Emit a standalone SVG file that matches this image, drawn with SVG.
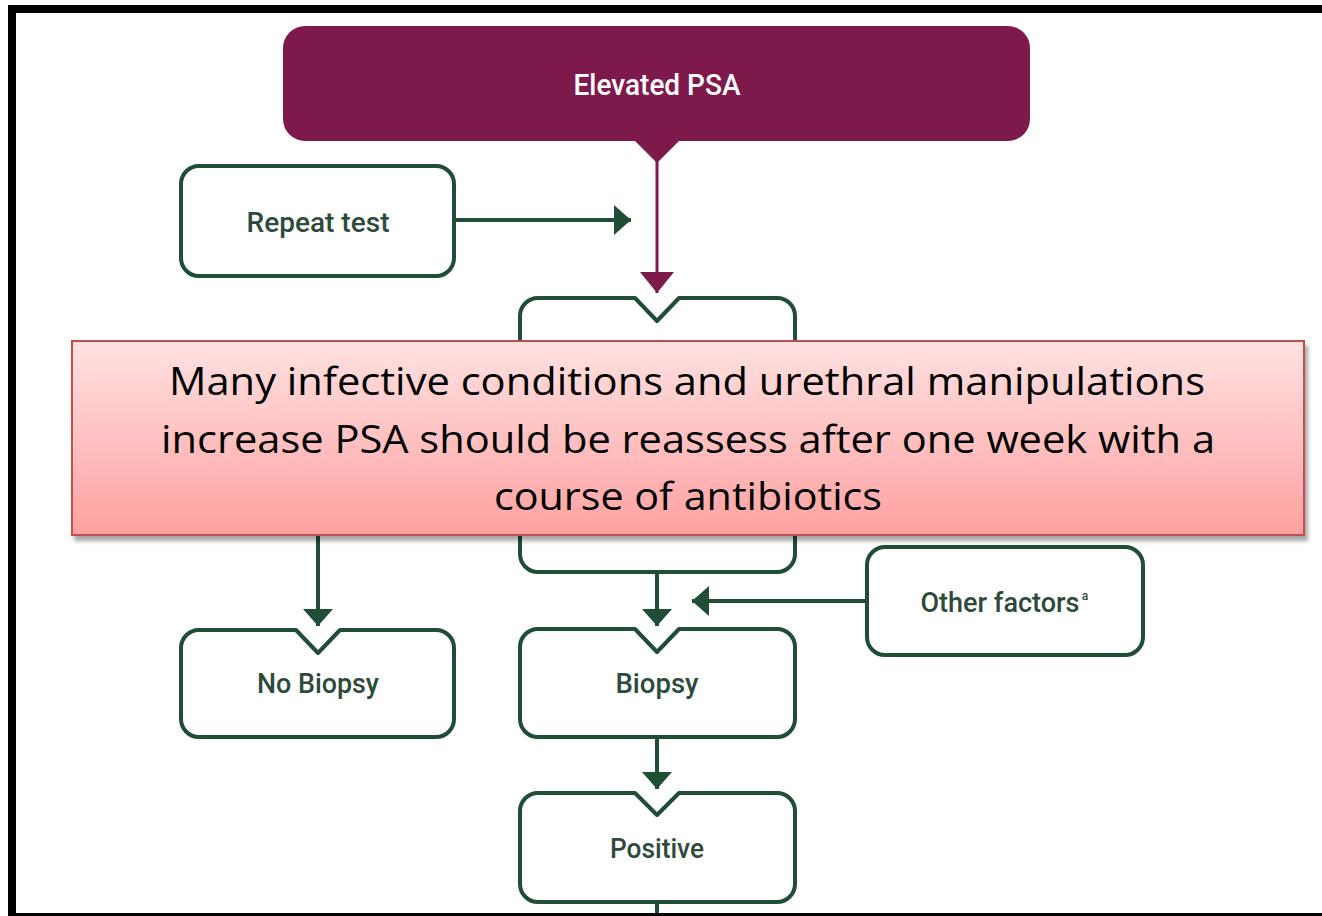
<svg xmlns="http://www.w3.org/2000/svg" width="1322" height="916" viewBox="0 0 1322 916">
<defs>
<style>
.box{fill:#ffffff;stroke:#1f4d36;stroke-width:4;stroke-linejoin:round}
.lbl{font-family:Roboto,"Liberation Sans",sans-serif;font-weight:500;fill:#2d4a3b;text-anchor:middle}
.gline{stroke:#1f4d36;stroke-width:4;fill:none}
.gline-m{stroke:#7e1a4b;stroke-width:3;fill:none}
.ov{font-family:"Open Sans","Noto Sans",sans-serif;font-size:38px;fill:#000000;text-anchor:middle}
</style>
<marker id="ga" markerUnits="userSpaceOnUse" markerWidth="18" markerHeight="30" viewBox="0 0 18 30" refX="17" refY="15" orient="auto">
<path d="M0,0 L17,15 L0,30 Z" fill="#1f4d36"/>
</marker>
<marker id="ma" markerUnits="userSpaceOnUse" markerWidth="22" markerHeight="34" viewBox="0 0 22 34" refX="21" refY="17" orient="auto">
<path d="M0,0 L21,17 L0,34 Z" fill="#7e1a4b"/>
</marker>
<linearGradient id="og" x1="0" y1="0" x2="0" y2="1">
<stop offset="0" stop-color="#ffe1e1"/>
<stop offset="1" stop-color="#ffa1a1"/>
</linearGradient>
<filter id="sh" x="-5%" y="-10%" width="110%" height="130%">
<feGaussianBlur in="SourceAlpha" stdDeviation="2"/>
<feOffset dx="3" dy="5" result="o"/>
<feComponentTransfer><feFuncA type="linear" slope="0.35"/></feComponentTransfer>
<feMerge><feMergeNode/><feMergeNode in="SourceGraphic"/></feMerge>
</filter>
</defs>
<rect x="0" y="0" width="1322" height="916" fill="#ffffff"/>

<g id="connectors">
<line class="gline-m" x1="657" y1="158" x2="657" y2="293" marker-end="url(#ma)"/>
<line class="gline" x1="455" y1="220" x2="631" y2="220" marker-end="url(#ga)"/>
<line class="gline" x1="318" y1="520" x2="318" y2="626" marker-end="url(#ga)"/>
<line class="gline" x1="657" y1="572" x2="657" y2="626" marker-end="url(#ga)"/>
<line class="gline" x1="867" y1="601" x2="692" y2="601" marker-end="url(#ga)"/>
<line class="gline" x1="657" y1="737" x2="657" y2="789" marker-end="url(#ga)"/>
<line class="gline" x1="657" y1="902" x2="657" y2="916"/>
</g>

<g id="node-elevated">
<rect x="283" y="26" width="747" height="115" rx="22" fill="#7e1a4b"/>
<polygon points="633,139 681,139 657,163" fill="#7e1a4b"/>
<text x="657" y="95" font-family="Roboto,'Liberation Sans',sans-serif" font-weight="500" font-size="30" fill="#ffffff" text-anchor="middle" textLength="167" lengthAdjust="spacingAndGlyphs">Elevated PSA</text>
</g>

<g id="node-repeat">
<rect class="box" x="181" y="166" width="273" height="110" rx="18"/>
<text class="lbl" x="318" y="232" font-size="28" textLength="143" lengthAdjust="spacingAndGlyphs">Repeat test</text>
</g>

<g id="node-middle">
<path class="box" d="M538 298 H635 L657 321 L679 298 H777 A18 18 0 0 1 795 316 V554 A18 18 0 0 1 777 572 H538 A18 18 0 0 1 520 554 V316 A18 18 0 0 1 538 298 Z"/>
</g>

<g id="node-nobiopsy">
<path class="box" d="M199 630 H296 L318 653 L340 630 H436 A18 18 0 0 1 454 648 V719 A18 18 0 0 1 436 737 H199 A18 18 0 0 1 181 719 V648 A18 18 0 0 1 199 630 Z"/>
<text class="lbl" x="318" y="693" font-size="27" textLength="122" lengthAdjust="spacingAndGlyphs">No Biopsy</text>
</g>

<g id="node-biopsy">
<path class="box" d="M538 629 H635 L657 652 L679 629 H777 A18 18 0 0 1 795 647 V719 A18 18 0 0 1 777 737 H538 A18 18 0 0 1 520 719 V647 A18 18 0 0 1 538 629 Z"/>
<text class="lbl" x="657" y="693" font-size="27" textLength="83" lengthAdjust="spacingAndGlyphs">Biopsy</text>
</g>

<g id="node-other">
<rect class="box" x="867" y="547" width="276" height="108" rx="18"/>
<text class="lbl" x="1000" y="612" font-size="27" textLength="159" lengthAdjust="spacingAndGlyphs">Other factors</text>
<text class="lbl" x="1085" y="600" font-size="12">a</text>
</g>

<g id="node-positive">
<path class="box" d="M538 793 H635 L657 815 L679 793 H777 A18 18 0 0 1 795 811 V884 A18 18 0 0 1 777 902 H538 A18 18 0 0 1 520 884 V811 A18 18 0 0 1 538 793 Z"/>
<text class="lbl" x="657" y="858" font-size="27" textLength="94" lengthAdjust="spacingAndGlyphs">Positive</text>
</g>

<g id="node-overlay">
<rect x="72" y="341" width="1232" height="194" fill="url(#og)" stroke="#c0504d" stroke-width="2" filter="url(#sh)"/>
<text class="ov" x="687" y="395" textLength="1036" lengthAdjust="spacingAndGlyphs">Many infective conditions and urethral manipulations</text>
<text class="ov" x="688" y="453" textLength="1054" lengthAdjust="spacingAndGlyphs">increase PSA should be reassess after one week with a</text>
<text class="ov" x="688" y="510" textLength="388" lengthAdjust="spacingAndGlyphs">course of antibiotics</text>
</g>

<g id="frame" fill="#000000">
<rect x="8" y="5" width="1314" height="8"/>
<rect x="8" y="5" width="8" height="911"/>
<rect x="8" y="913" width="1314" height="3"/>
</g>
</svg>
